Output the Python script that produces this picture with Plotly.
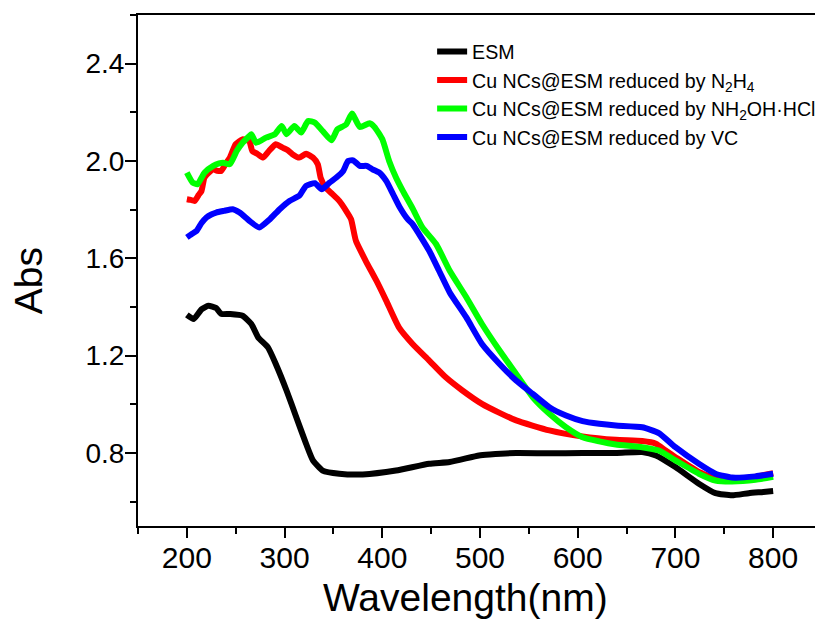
import plotly.graph_objects as go

# ---- data ----
esm_wl = [200, 207, 215, 222, 230, 235, 244, 257, 266, 273, 283, 291, 302, 312, 322, 329, 339, 356, 380, 414, 448, 469, 499, 510, 537, 570, 605, 640, 666, 680, 700, 724, 741, 758, 775, 790, 800]
esm_abs = [1.368, 1.351, 1.39, 1.405, 1.396, 1.372, 1.371, 1.364, 1.33, 1.275, 1.234, 1.166, 1.057, 0.947, 0.838, 0.77, 0.728, 0.715, 0.712, 0.728, 0.756, 0.763, 0.79, 0.794, 0.8, 0.799, 0.8, 0.8, 0.804, 0.79, 0.742, 0.674, 0.635, 0.626, 0.635, 0.64, 0.644]

n2h4_wl = [200, 204, 208, 212, 215, 218, 222, 227, 231, 235, 240, 244, 250, 257, 262, 264, 267, 272, 278, 284, 291, 298, 303, 308, 315, 322, 329, 334, 337, 342, 349, 356, 363, 368, 373, 383, 394, 404, 417, 431, 448, 465, 482, 502, 520, 537, 571, 605, 639, 666, 680, 690, 700, 724, 748, 768, 785, 800]
n2h4_abs = [1.843, 1.84, 1.836, 1.86, 1.877, 1.932, 1.95, 1.966, 1.96, 1.959, 1.99, 2.014, 2.069, 2.089, 2.085, 2.082, 2.041, 2.03, 2.014, 2.041, 2.069, 2.055, 2.045, 2.028, 2.014, 2.03, 2.014, 1.987, 1.93, 1.891, 1.864, 1.836, 1.795, 1.761, 1.672, 1.59, 1.508, 1.426, 1.316, 1.248, 1.18, 1.111, 1.057, 1.002, 0.965, 0.934, 0.893, 0.868, 0.854, 0.849, 0.838, 0.81, 0.783, 0.722, 0.687, 0.69, 0.705, 0.717]

nh2oh_wl = [200, 206, 211, 218, 227, 233, 237, 244, 251, 257, 264, 266, 271, 281, 290, 297, 302, 310, 317, 324, 331, 339, 348, 354, 363, 369, 377, 387, 392, 400, 407, 414, 421, 431, 441, 455, 469, 486, 502, 520, 537, 554, 571, 588, 605, 622, 639, 666, 683, 700, 724, 741, 758, 782, 800]
nh2oh_abs = [1.952, 1.911, 1.905, 1.952, 1.98, 1.99, 1.993, 1.987, 2.041, 2.075, 2.103, 2.11, 2.075, 2.096, 2.11, 2.144, 2.11, 2.144, 2.117, 2.164, 2.158, 2.123, 2.085, 2.13, 2.15, 2.195, 2.14, 2.155, 2.14, 2.09, 2.0, 1.932, 1.877, 1.805, 1.727, 1.659, 1.549, 1.44, 1.33, 1.221, 1.125, 1.029, 0.961, 0.906, 0.865, 0.848, 0.835, 0.824, 0.81, 0.77, 0.715, 0.687, 0.683, 0.69, 0.702]

vc_wl = [200, 205, 210, 215, 220, 225, 230, 238, 247, 254, 264, 274, 285, 295, 305, 315, 322, 331, 338, 346, 353, 360, 365, 370, 377, 384, 390, 397, 404, 411, 418, 426, 431, 448, 458, 469, 486, 502, 520, 537, 554, 571, 588, 605, 622, 639, 666, 683, 700, 724, 741, 758, 782, 800]
vc_abs = [1.686, 1.70, 1.713, 1.745, 1.768, 1.78, 1.788, 1.795, 1.802, 1.788, 1.754, 1.727, 1.761, 1.802, 1.836, 1.857, 1.898, 1.909, 1.884, 1.911, 1.932, 1.959, 2.0, 2.003, 1.98, 1.98, 1.966, 1.952, 1.918, 1.864, 1.809, 1.761, 1.741, 1.631, 1.55, 1.46, 1.357, 1.248, 1.166, 1.098, 1.043, 0.988, 0.954, 0.931, 0.92, 0.913, 0.906, 0.882, 0.824, 0.756, 0.715, 0.699, 0.704, 0.715]

series_names = ["ESM",
                "Cu NCs@ESM reduced by N<sub>2</sub>H<sub>4</sub>",
                "Cu NCs@ESM reduced by NH<sub>2</sub>OH·HCl",
                "Cu NCs@ESM reduced by VC"]
series_colors = ["#000000", "#ff0000", "#00ff00", "#0000ff"]
series_x = [esm_wl, n2h4_wl, nh2oh_wl, vc_wl]
series_y = [esm_abs, n2h4_abs, nh2oh_abs, vc_abs]

x_title = "Wavelength(nm)"
y_title = "Abs"

FONT = "Liberation Sans, Arial, sans-serif"

fig = go.Figure()
for name, color, xs, ys in zip(series_names, series_colors, series_x, series_y):
    fig.add_trace(go.Scatter(x=xs, y=ys, mode="lines", name=name,
                             line=dict(color=color, width=6, shape="spline", smoothing=0.5)))

# the page body has an 8px margin, so the figure is sized/offset to compensate
fig.update_layout(
    width=815, height=618,
    margin=dict(l=130, r=1, t=7, b=100, autoexpand=False),
    paper_bgcolor="white", plot_bgcolor="white",
    font=dict(family=FONT, color="black"),
    legend=dict(x=0.430, y=0.966, xanchor="left", yanchor="top",
                bgcolor="rgba(0,0,0,0)", borderwidth=0,
                font=dict(size=19.6, family=FONT, color="black"),
                tracegroupgap=0, itemwidth=30),
    showlegend=True,
    annotations=[
        dict(text=x_title, xref="paper", yref="paper", x=0.4795, y=-0.140,
             xanchor="center", yanchor="middle", showarrow=False,
             font=dict(size=39, family=FONT, color="black")),
        dict(text=y_title, xref="paper", yref="paper", x=-0.1608, y=0.479,
             xanchor="center", yanchor="middle", showarrow=False, textangle=-90,
             font=dict(size=39, family=FONT, color="black")),
    ],
)

fig.update_xaxes(
    range=[150, 850], tickmode="linear", tick0=200, dtick=100,
    showline=True, linecolor="black", linewidth=2, mirror=True,
    ticks="outside", ticklen=10, tickwidth=2, tickcolor="black",
    minor=dict(dtick=50, tick0=150, ticklen=6, tickwidth=2, tickcolor="black", ticks="outside"),
    showgrid=False, zeroline=False, automargin=False,
    tickfont=dict(size=30, family=FONT, color="black"), ticklabelstandoff=-6,
)
fig.update_yaxes(
    range=[0.5, 2.6], tickmode="linear", tick0=0.8, dtick=0.4, tickformat=".1f",
    showline=True, linecolor="black", linewidth=2, mirror=True,
    ticks="outside", ticklen=11, tickwidth=2, tickcolor="black",
    minor=dict(dtick=0.2, tick0=0.6, ticklen=6, tickwidth=2, tickcolor="black", ticks="outside"),
    showgrid=False, zeroline=False, automargin=False,
    tickfont=dict(size=28, family=FONT, color="black"), ticklabelstandoff=-5,
)

fig.write_html("out.html")
